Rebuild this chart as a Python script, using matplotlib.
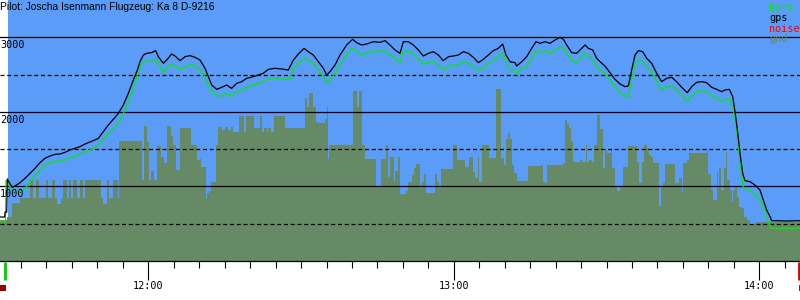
import matplotlib
matplotlib.use("Agg")
import matplotlib.pyplot as plt
import matplotlib.transforms as mtransforms
from matplotlib.patches import Rectangle
from matplotlib.ticker import FixedLocator, FuncFormatter

# ---------------- data (time = minutes after 11:00, altitude in m) ----------------
title = "Pilot: Joscha Isenmann Flugzeug: Ka 8 D-9216"
legend_labels = ["baro", "gps", "noise", "gnd"]
legend_colors = ["#00ee00", "#000000", "#ff0000", "#668866"]

t_start, t_end = 30.875, 187.99
sky_start = 32.40
takeoff_time = 31.95
landing_time = 187.80

grid_solid = [1000, 2000, 3000]
grid_dashed = [500, 1500, 2500]
y_labels = [1000, 2000, 3000]
major_ticks = [60, 120, 180]
minor_ticks = list(range(35, 190, 5))

gps_time = [30.88, 31.80, 31.86, 32.20, 32.32, 32.60, 33.30, 33.82, 34.80, 35.79,
            36.77, 37.75, 38.73, 39.71, 40.70, 41.68, 42.66, 43.64, 44.63, 45.61,
            46.59, 47.57, 48.55, 49.53, 50.19, 51.17, 52.15, 53.13, 54.12, 55.10,
            56.08, 57.06, 57.85, 58.37, 59.03, 59.68, 60.66, 61.45, 61.97, 62.95,
            63.61, 64.59, 65.25, 66.23, 67.21, 68.19, 69.18,
            70.15, 71.14, 71.79, 72.45, 73.43, 74.41, 75.39, 76.37, 77.36, 78.34,
            79.32, 80.63, 81.61, 82.59, 83.58, 84.88, 86.19, 87.50, 88.49, 89.47,
            90.58, 91.43, 92.41, 93.40, 94.38, 95.03, 95.69, 96.67, 97.65, 98.96,
            100.14, 100.92, 101.91, 102.89, 104.20, 105.51, 106.49, 107.47, 108.45,
            109.43, 110.09, 111.07, 112.05, 113.03, 114.02, 115.00, 115.98, 116.96, 117.94,
            118.93, 119.91, 120.89, 121.87, 122.85, 123.84, 124.82, 125.80, 126.78, 127.76,
            128.75, 129.60, 130.25, 131.04, 132.02, 132.35, 133.33, 134.31, 135.29, 136.15,
            136.93, 137.91, 138.89, 139.88, 140.86, 141.51, 142.17, 143.15, 144.13, 145.11,
            145.77, 146.42, 147.28, 148.06,
            148.71, 149.69, 150.68, 151.66, 152.64, 153.62, 154.28, 154.93, 155.59, 156.24,
            157.09, 157.88, 158.86, 159.84, 160.82, 161.81, 162.79, 163.77, 164.75, 165.87,
            166.72, 167.70, 168.68, 169.66, 170.64, 171.63, 172.61, 173.26, 174.11, 174.77,
            175.23, 175.69, 176.21, 176.73, 177.19, 178.17, 179.14, 180.13, 180.78, 181.44,
            182.10, 182.43, 183.41, 185.38, 187.99]
gps_alt = [590, 590, 656, 656, 1100, 1060, 988, 1006, 1050, 1109,
           1176, 1243, 1319, 1377, 1408, 1430, 1435, 1457, 1489, 1511,
           1533, 1569, 1596, 1623, 1645, 1734, 1824, 1900, 1980, 2092,
           2248, 2427, 2561, 2673, 2762, 2785, 2794, 2821, 2740, 2651,
           2695, 2776, 2749, 2686, 2740, 2754, 2731,
           2695, 2584, 2472, 2360, 2302, 2329, 2360, 2315, 2383, 2405,
           2450, 2472, 2494, 2517, 2570, 2584, 2575, 2561, 2695, 2776,
           2852, 2807, 2762, 2673, 2584, 2494, 2539, 2628, 2762, 2897,
           2973, 2928, 2897, 2910, 2941, 2932, 2955, 2897, 2830,
           2785, 2941, 2941, 2897, 2830, 2749, 2785, 2807, 2762, 2686,
           2740, 2749, 2762, 2807, 2785, 2731, 2660, 2704, 2762, 2821,
           2852, 2910, 2762, 2673, 2660, 2615, 2673, 2740, 2852, 2941,
           2919, 2941, 2919, 2964, 2999, 2973, 2897, 2794, 2785, 2852,
           2897, 2852, 2830, 2718,
           2673, 2615, 2526, 2436, 2374, 2338, 2347, 2561, 2762, 2821,
           2807, 2718, 2651, 2517, 2405, 2450, 2463, 2405, 2329, 2257,
           2338, 2396, 2405, 2391, 2329, 2302, 2271, 2293, 2302, 2204,
           2003, 1757, 1444, 1176, 1077, 1064, 1019, 952, 818, 684,
           595, 541, 541, 536, 541]

baro_time = [30.88, 31.95, 32.05, 32.40, 33.30, 34.80, 35.79, 36.77, 37.75, 38.73,
             39.71, 40.70, 41.68, 42.66, 43.64, 44.63, 45.61, 46.59, 47.57, 48.55,
             49.53, 50.52, 51.50, 52.48, 53.46, 54.44, 55.43, 56.41, 57.39, 58.37,
             59.03, 59.68, 60.66, 61.45, 61.97, 62.95, 63.61, 64.59, 65.25, 66.23,
             67.21, 68.19, 69.18,
             70.15, 71.14, 72.12, 73.43, 74.41, 75.39, 76.37, 77.36, 78.34, 79.32,
             80.63, 81.61, 82.59, 83.58, 84.88, 86.19, 87.83, 88.49, 89.47, 90.58,
             91.43, 92.41, 93.40, 94.38, 95.03, 95.69, 96.67, 97.65, 98.96, 100.14,
             100.92, 101.91, 102.89, 104.20, 105.51, 106.49, 107.47, 108.45,
             109.43, 110.09, 111.07, 112.05, 113.03, 114.02, 115.00, 115.98, 116.96, 117.94,
             118.93, 119.91, 120.89, 121.87, 122.85, 123.84, 124.82, 125.80, 126.78, 127.76,
             128.75, 129.60, 130.25, 131.04, 132.02, 132.35, 133.33, 134.31, 135.29, 136.15,
             136.93, 137.91, 138.89, 139.88, 140.86, 141.51, 142.17, 143.15, 144.13, 145.11,
             145.77, 146.42, 147.28, 148.06,
             148.71, 149.69, 150.68, 151.66, 152.64, 153.62, 154.28, 154.93, 155.59, 156.24,
             157.09, 157.88, 158.86, 159.84, 160.82, 161.81, 162.79, 163.77, 164.75, 165.87,
             166.72, 167.70, 168.68, 169.66, 170.64, 171.63, 172.61, 173.26, 174.11, 174.77,
             175.23, 175.69, 176.21, 176.86, 177.85, 178.83, 179.81, 180.47, 181.12, 181.78,
             182.43, 187.99]
baro_alt = [535, 535, 1080, 1060, 930, 916, 974, 1064, 1140, 1220,
            1287, 1319, 1332, 1341, 1354, 1386, 1408, 1435, 1466, 1489,
            1524, 1578, 1667, 1734, 1801, 1891, 2025, 2204, 2383, 2606,
            2664, 2673, 2686, 2704, 2651, 2526, 2584, 2642, 2628, 2561,
            2606, 2637, 2615,
            2570, 2472, 2302, 2213, 2213, 2248, 2204, 2271, 2293, 2329,
            2360, 2383, 2405, 2441, 2450, 2441, 2441, 2584, 2651, 2727,
            2686, 2651, 2561, 2472, 2383, 2427, 2517, 2628, 2776, 2852,
            2807, 2762, 2785, 2816, 2807, 2821, 2762, 2718,
            2660, 2807, 2821, 2776, 2704, 2637, 2660, 2682, 2628, 2561,
            2615, 2628, 2628, 2682, 2651, 2606, 2552, 2584, 2651, 2695,
            2740, 2794, 2651, 2570, 2539, 2508, 2584, 2606, 2718, 2821,
            2794, 2821, 2785, 2830, 2865, 2852, 2785, 2682, 2660, 2740,
            2785, 2740, 2704, 2615,
            2561, 2508, 2427, 2338, 2248, 2213, 2204, 2427, 2651, 2704,
            2686, 2597, 2539, 2405, 2293, 2338, 2347, 2293, 2226, 2137,
            2213, 2271, 2284, 2271, 2217, 2181, 2137, 2159, 2181, 2070,
            1913, 1667, 1332, 974, 961, 907, 863, 773, 662, 527,
            438, 438]

gnd_time = [30.88, 32.32, 33.30, 34.80, 36.77, 37.29, 37.88, 38.60, 39.84, 40.37,
            41.09, 41.61, 42.14, 42.86, 43.31, 43.97, 44.43, 44.89, 45.28, 46.06,
            46.59, 47.11, 47.64, 50.71, 51.17, 51.83, 52.35, 53.13, 53.99, 54.31,
            58.70, 59.16, 59.75, 60.14, 60.47, 61.12, 61.65, 62.50, 63.09, 63.61,
            64.40, 64.92, 65.38, 66.23, 68.32, 69.50,
            70.15, 70.35, 71.27, 71.59, 71.92, 72.31, 73.30, 73.75, 74.41, 75.06,
            75.72, 76.18, 76.70, 77.88, 78.80, 79.19, 80.76, 81.94, 82.27, 82.72,
            83.25, 83.58, 84.03, 84.69, 86.85, 90.84, 91.23, 91.56, 92.41, 92.94,
            93.40, 94.71, 95.10, 95.29, 95.56, 100.27, 101.06, 101.45, 101.97, 102.56,
            104.72, 105.70, 106.62, 107.01, 107.47, 108.26, 108.52, 109.11,
            109.43, 110.61, 111.00, 111.86, 112.18, 112.58, 113.36, 113.75, 114.15, 114.54,
            116.31, 116.70, 117.16, 117.55, 119.91, 120.69, 122.26, 123.05, 123.84, 124.23,
            124.69, 124.88, 125.54, 126.85, 128.29, 129.21, 129.86, 130.25, 130.65, 131.04,
            131.43, 131.82, 132.35, 134.57, 137.26, 137.59, 137.91, 138.37, 141.51, 141.91,
            142.30, 142.69, 143.08, 143.48, 144.79, 145.18, 145.90, 146.23, 146.62, 147.08,
            147.54, 148.19,
            148.71, 149.24, 149.37, 149.76, 150.02, 150.81, 151.07, 151.59, 151.99, 152.64,
            153.17, 154.28, 156.05, 156.44, 156.90, 157.35, 157.88, 158.27, 158.66, 159.06,
            160.37, 160.69, 161.15, 161.48, 163.44, 164.29, 164.75, 165.08, 165.87, 166.26,
            169.79, 169.99, 170.45, 170.97, 171.63, 171.96, 172.15, 172.41, 173.07, 173.46,
            173.72, 174.24, 174.57, 174.90, 175.23, 175.69, 176.08, 176.54, 177.00, 177.52,
            178.17, 179.14, 187.99]
gnd_alt = [550, 595, 780, 840, 1086, 840, 1086, 840, 1086, 840,
           1086, 840, 764, 840, 1086, 840, 1086, 840, 1086, 840,
           1086, 840, 1086, 840, 764, 1086, 840, 1086, 840, 1614,
           1086, 1810, 1600, 1086, 1211, 1086, 1542, 1399, 1310, 1810,
           1676, 1556, 1220, 1788, 1556, 1354,
           1363, 1265, 840, 907, 939, 1059, 1556, 1792, 1757, 1792,
           1757, 1792, 1734, 1944, 1734, 1944, 1779, 1944, 1734, 1779,
           1734, 1779, 1734, 1944, 1788, 2181, 2061, 2248, 2061, 1868,
           1846, 1904, 2061, 1363, 1556, 2280, 2070, 2280, 1556, 1368,
           1010, 1368, 1556, 1131, 1390, 1064, 1207, 1390,
           898, 934, 1059, 1153, 1243, 1301, 974, 1059, 1167, 912,
           1167, 1059, 974, 1229, 1556, 1354, 1256, 1399, 1198, 1117,
           1399, 1059, 1556, 1377, 2307, 1377, 1287, 1632, 1712, 1632,
           1287, 1185, 1077, 1274, 1287, 1064, 1042, 1287, 1310, 1891,
           1837, 1779, 1614, 1332, 1354, 1328, 1556, 1328, 1354, 1328,
           1556, 1953,
           1770, 1712, 1243, 1489, 1444, 1497, 1243, 997, 943, 997,
           1265, 1542, 1332, 1042, 1332, 1556, 1511, 1421, 1399, 1310,
           742, 997, 1042, 1301, 1042, 1109, 930, 1310, 1354, 1444,
           1489, 1162, 952, 818, 1207, 997, 1243, 952, 1243, 1457,
           1086, 952, 796, 952, 997, 863, 729, 706, 595, 550,
           496, 523, 523]

# ---------------- style ----------------
SKY = "#5a9cf8"
GND = "#658a65"
MONO = "DejaVu Sans Mono"

fig = plt.figure(figsize=(8, 3), dpi=100)
fig.patch.set_facecolor("white")
ax = fig.add_axes([0, 0.13, 1, 0.87])
ax.set_xlim(t_start, t_end)
ax.set_ylim(0, 3500)
ax.set_facecolor("white")

ax.axvspan(sky_start, t_end, color=SKY, lw=0, zorder=0)
ax.fill_between(gnd_time, gnd_alt, 0, step="post", color=GND, lw=0, zorder=1)

for lvl in grid_solid:
    ax.axhline(lvl, color="black", lw=0.9, zorder=2)
for lvl in grid_dashed:
    ax.axhline(lvl, color="black", lw=0.9, ls=(0, (3.2, 2.2)), zorder=2)

ax.plot(baro_time, baro_alt, color="#00ee00", lw=0.9, zorder=3)
ax.plot(gps_time, gps_alt, color="black", lw=0.9, zorder=4)

for v in y_labels:
    ax.annotate(str(v), xy=(0, v), xycoords=("axes fraction", "data"),
                xytext=(0, -2.2), textcoords="offset points", ha="left", va="top",
                fontfamily=MONO, fontsize=7.3, zorder=5)

# axes / ticks
for s in ["left", "right", "top"]:
    ax.spines[s].set_visible(False)
ax.spines["bottom"].set_linewidth(0.9)
ax.spines["bottom"].set_zorder(6)
ax.set_yticks([])
ax.xaxis.set_major_locator(FixedLocator(major_ticks))
ax.xaxis.set_minor_locator(FixedLocator(minor_ticks))
ax.xaxis.set_major_formatter(FuncFormatter(lambda v, p: "%d:%02d" % (11 + int(v) // 60, int(v) % 60)))
ax.tick_params(axis="x", which="major", length=13.7, width=0.8, pad=1.0,
               labelsize=7.3, direction="out")
ax.tick_params(axis="x", which="minor", length=5, width=0.8, direction="out")
for lab in ax.get_xticklabels():
    lab.set_fontfamily(MONO)

# takeoff / landing markers below the axis
trans = mtransforms.blended_transform_factory(ax.transData, ax.transAxes)
ax.vlines(takeoff_time, -0.073, -0.004, transform=trans, color="#00cc00", lw=2.0, clip_on=False)
ax.add_patch(Rectangle((t_start, -0.115), takeoff_time + 0.1 - t_start, 0.024,
                       transform=trans, color="#990000", lw=0, clip_on=False))
ax.vlines(landing_time, -0.073, -0.004, transform=trans, color="#dd0000", lw=2.0, clip_on=False)
ax.add_patch(Rectangle((landing_time - 0.1, -0.115), t_end - landing_time + 0.1, 0.024,
                       transform=trans, color="#dd0000", lw=0, clip_on=False))

# title and legend text
fig.text(0, 1 - 1.5 / 300, title, ha="left", va="top", fontfamily="Liberation Sans", fontsize=7.35)
for i, (lab, col) in enumerate(zip(legend_labels, legend_colors)):
    fig.text(769 / 800, 1 - (3 + 10.3 * i) / 300, lab, ha="left", va="top",
             fontfamily=MONO, fontsize=7.3, color=col)

fig.savefig("out.png", dpi=100)
